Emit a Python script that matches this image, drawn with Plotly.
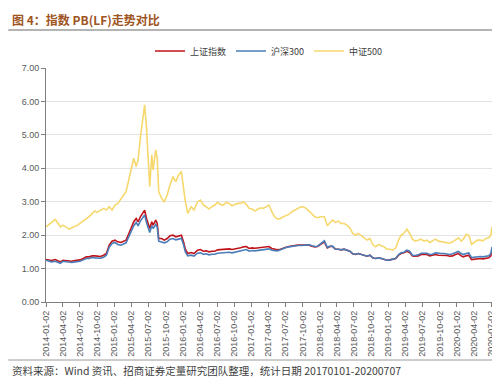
import plotly.graph_objects as go

dates = [
    "2014-01-02","2014-01-15","2014-02-01","2014-02-20","2014-03-05","2014-03-20","2014-04-02","2014-04-20",
    "2014-05-05","2014-05-20","2014-06-05","2014-06-20","2014-07-02","2014-07-20","2014-08-05","2014-08-20",
    "2014-09-05","2014-09-20","2014-10-02","2014-10-20","2014-11-05","2014-11-20","2014-12-05","2014-12-20",
    "2015-01-05","2015-01-20","2015-02-05","2015-02-20","2015-03-05","2015-03-20","2015-04-02","2015-04-15",
    "2015-04-28","2015-05-08","2015-05-20","2015-06-01","2015-06-12","2015-06-22","2015-07-03","2015-07-09",
    "2015-07-20","2015-07-27","2015-08-10","2015-08-18","2015-08-26","2015-09-10","2015-09-25","2015-10-10",
    "2015-10-25","2015-11-10","2015-11-25","2015-12-10","2015-12-25","2016-01-05","2016-01-15","2016-01-28",
    "2016-02-15","2016-03-01","2016-03-20","2016-04-05","2016-04-20","2016-05-05","2016-05-20","2016-06-05",
    "2016-06-20","2016-07-05","2016-07-20","2016-08-05","2016-08-20","2016-09-05","2016-09-20","2016-10-05",
    "2016-10-20","2016-11-05","2016-11-20","2016-12-05","2016-12-20","2017-01-05","2017-01-20","2017-02-05",
    "2017-02-20","2017-03-05","2017-03-20","2017-04-05","2017-04-20","2017-05-05","2017-05-20","2017-06-05",
    "2017-06-20","2017-07-05","2017-07-20","2017-08-05","2017-08-20","2017-09-05","2017-09-20","2017-10-05",
    "2017-10-20","2017-11-05","2017-11-20","2017-12-05","2017-12-20","2018-01-05","2018-01-25","2018-02-10",
    "2018-02-25","2018-03-10","2018-03-25","2018-04-10","2018-04-25","2018-05-10","2018-05-25","2018-06-10",
    "2018-06-25","2018-07-10","2018-07-25","2018-08-10","2018-08-25","2018-09-10","2018-09-25","2018-10-10",
    "2018-10-25","2018-11-10","2018-11-25","2018-12-10","2018-12-25","2019-01-10","2019-01-25","2019-02-10",
    "2019-02-25","2019-03-10","2019-03-25","2019-04-10","2019-04-25","2019-05-10","2019-05-25","2019-06-10",
    "2019-06-25","2019-07-10","2019-07-25","2019-08-10","2019-08-25","2019-09-10","2019-09-25","2019-10-10",
    "2019-10-25","2019-11-10","2019-11-25","2019-12-10","2019-12-25","2020-01-10","2020-01-25","2020-02-05",
    "2020-02-20","2020-03-05","2020-03-20","2020-04-05","2020-04-20","2020-05-05","2020-05-20","2020-06-05",
    "2020-06-20","2020-07-01","2020-07-07",
]

sh_index = [
    1.27,1.25,1.24,1.27,1.24,1.20,1.25,1.24,
    1.22,1.22,1.24,1.24,1.26,1.30,1.35,1.35,
    1.38,1.38,1.37,1.36,1.40,1.45,1.70,1.82,
    1.85,1.80,1.78,1.82,1.85,2.05,2.25,2.40,
    2.50,2.40,2.55,2.65,2.75,2.50,2.25,2.20,
    2.40,2.30,2.45,2.35,1.90,1.90,1.85,1.90,
    1.98,2.00,1.95,1.98,2.00,1.80,1.58,1.45,
    1.48,1.45,1.55,1.57,1.52,1.53,1.50,1.52,
    1.52,1.56,1.57,1.57,1.60,1.59,1.57,1.58,
    1.60,1.62,1.65,1.66,1.60,1.62,1.61,1.62,
    1.64,1.64,1.65,1.66,1.60,1.57,1.56,1.58,
    1.62,1.64,1.66,1.68,1.69,1.70,1.70,1.70,
    1.71,1.70,1.67,1.65,1.66,1.72,1.80,1.62,
    1.66,1.66,1.58,1.58,1.56,1.58,1.55,1.52,
    1.44,1.42,1.45,1.42,1.40,1.37,1.40,1.32,
    1.30,1.32,1.30,1.28,1.25,1.26,1.27,1.30,
    1.40,1.45,1.47,1.52,1.48,1.38,1.37,1.38,
    1.42,1.41,1.42,1.38,1.39,1.42,1.40,1.40,
    1.40,1.39,1.37,1.38,1.42,1.45,1.38,1.35,
    1.38,1.40,1.27,1.28,1.30,1.30,1.29,1.31,
    1.32,1.38,1.58,
]

hs300 = [
    1.25,1.22,1.20,1.22,1.19,1.16,1.22,1.20,
    1.18,1.18,1.20,1.20,1.22,1.26,1.30,1.30,
    1.33,1.32,1.32,1.31,1.34,1.40,1.64,1.75,
    1.78,1.72,1.70,1.74,1.77,1.96,2.15,2.28,
    2.38,2.28,2.42,2.52,2.60,2.38,2.15,2.08,
    2.28,2.20,2.32,2.24,1.82,1.80,1.77,1.80,
    1.88,1.90,1.86,1.88,1.90,1.72,1.50,1.38,
    1.40,1.37,1.46,1.47,1.43,1.44,1.41,1.43,
    1.43,1.46,1.47,1.47,1.50,1.49,1.47,1.49,
    1.50,1.53,1.56,1.57,1.52,1.54,1.53,1.54,
    1.57,1.57,1.58,1.59,1.55,1.53,1.53,1.56,
    1.60,1.63,1.65,1.67,1.68,1.69,1.69,1.70,
    1.71,1.71,1.68,1.66,1.67,1.74,1.83,1.63,
    1.67,1.67,1.58,1.58,1.56,1.58,1.55,1.52,
    1.44,1.43,1.45,1.42,1.40,1.37,1.40,1.32,
    1.30,1.32,1.30,1.28,1.25,1.26,1.28,1.31,
    1.42,1.47,1.49,1.55,1.52,1.40,1.39,1.41,
    1.46,1.45,1.46,1.42,1.43,1.47,1.45,1.45,
    1.45,1.44,1.42,1.44,1.48,1.51,1.45,1.42,
    1.45,1.47,1.33,1.34,1.36,1.36,1.35,1.37,
    1.38,1.45,1.65,
]

zz500 = [
    2.25,2.30,2.38,2.47,2.35,2.25,2.30,2.22,
    2.18,2.22,2.25,2.30,2.35,2.42,2.50,2.55,
    2.65,2.72,2.68,2.75,2.80,2.75,2.85,2.75,
    2.90,2.95,3.10,3.20,3.30,3.70,4.00,4.30,
    4.05,4.25,4.90,5.35,5.90,5.20,4.00,3.45,
    4.40,3.95,4.55,4.30,3.30,3.10,3.00,3.20,
    3.50,3.75,3.60,3.80,3.90,3.40,3.00,2.65,
    2.85,2.75,3.00,3.05,2.90,2.85,2.78,2.85,
    2.90,2.98,2.92,2.90,2.98,2.95,2.88,2.92,
    2.95,2.95,3.00,2.92,2.80,2.78,2.72,2.78,
    2.82,2.80,2.85,2.90,2.70,2.55,2.48,2.50,
    2.55,2.58,2.62,2.70,2.74,2.80,2.84,2.85,
    2.80,2.72,2.62,2.55,2.52,2.55,2.55,2.28,
    2.38,2.45,2.38,2.42,2.35,2.35,2.30,2.22,
    2.05,2.00,2.05,1.98,1.92,1.85,1.90,1.72,
    1.65,1.72,1.68,1.65,1.58,1.58,1.55,1.62,
    1.85,2.00,2.05,2.18,2.05,1.88,1.82,1.85,
    1.88,1.82,1.85,1.78,1.82,1.88,1.82,1.80,
    1.80,1.78,1.76,1.80,1.86,1.92,1.82,1.88,
    2.02,2.00,1.72,1.78,1.85,1.85,1.83,1.90,
    1.92,2.00,2.25,
]

tick_labels = [
    "2014-01-02","2014-04-02","2014-07-02","2014-10-02","2015-01-02","2015-04-02","2015-07-02",
    "2015-10-02","2016-01-02","2016-04-02","2016-07-02","2016-10-02","2017-01-02","2017-04-02",
    "2017-07-02","2017-10-02","2018-01-02","2018-04-02","2018-07-02","2018-10-02","2019-01-02",
    "2019-04-02","2019-07-02","2019-10-02","2020-01-02","2020-04-02","2020-07-02",
]

series_names = ["上证指数", "沪深300", "中证500"]
series_colors = ["#C0141C", "#4A7DB8", "#F6D86E"]

fig = go.Figure()
for name, vals, col in zip(series_names, [sh_index, hs300, zz500], series_colors):
    fig.add_trace(go.Scatter(x=dates, y=vals, mode="lines", name=name,
                             line=dict(color=col, width=1.6)))

# plot area: x 38..487, y 60..294
L, R, T, B = 38, 13, 60, 85
W, H = 500, 379
pw, ph = W - L - R, H - T - B
def px(x):
    return (x - L) / pw
def py(y):
    return (H - B - y) / ph

fig.update_layout(
    width=W, height=H,
    margin=dict(l=L, r=R, t=T, b=B),
    paper_bgcolor="white", plot_bgcolor="white",
    font=dict(family="Liberation Sans, Noto Sans CJK SC, sans-serif", size=9, color="#595959"),
    showlegend=True,
    legend=dict(orientation="h", x=0.5, xanchor="center", y=py(43), yanchor="middle",
                font=dict(size=9, color="#404040", family="Noto Sans CJK SC, sans-serif"),
                itemwidth=30, tracegroupgap=0, bgcolor="rgba(0,0,0,0)"),
    xaxis=dict(
        type="date", range=["2014-01-02", "2020-07-07"],
        tickvals=tick_labels, ticktext=tick_labels, tickangle=-90,
        showgrid=False, showline=True, linecolor="#7f7f7f", linewidth=1.2,
        ticks="outside", ticklen=4, tickcolor="#7f7f7f",
        tickfont=dict(size=9, color="#595959"), zeroline=False,
    ),
    yaxis=dict(
        range=[0, 7], dtick=1, tickformat=".2f",
        showgrid=True, gridcolor="#e3e3e3", gridwidth=1,
        showline=True, linecolor="#7f7f7f", linewidth=1,
        ticks="outside", ticklen=4, tickcolor="#7f7f7f",
        tickfont=dict(size=9, color="#595959"), zeroline=False,
    ),
    shapes=[
        dict(type="line", xref="paper", yref="paper", x0=px(0), x1=px(493), y0=py(22), y1=py(22),
             line=dict(color="#6b6b6b", width=1.2)),
        dict(type="line", xref="paper", yref="paper", x0=px(0), x1=px(493), y0=py(352), y1=py(352),
             line=dict(color="#9a9a9a", width=1)),
    ],
    annotations=[
        dict(text="<b>图 4：指数 PB(LF)走势对比</b>", xref="paper", yref="paper",
             x=px(2), y=py(11), xanchor="left", yanchor="middle", showarrow=False,
             font=dict(size=12, color="#A0541E", family="Noto Sans CJK SC, sans-serif")),
        dict(text="资料来源：Wind 资讯、招商证券定量研究团队整理，统计日期 20170101-20200707",
             xref="paper", yref="paper", x=px(2), y=py(362), xanchor="left", yanchor="middle",
             showarrow=False, font=dict(size=10.5, color="#404040", family="Noto Sans CJK SC, sans-serif")),
    ],
)

fig.write_html("out.html")
